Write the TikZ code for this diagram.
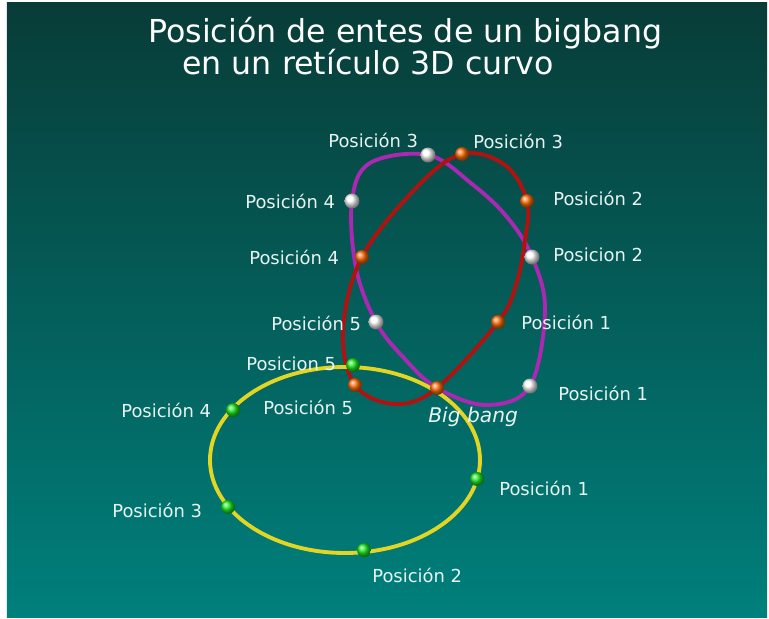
\documentclass[tikz,border=0pt]{standalone}
\usepackage{fontspec}
\setmainfont{DejaVu Sans}
\definecolor{bgtop}{RGB}{8,60,56}
\definecolor{bgbot}{RGB}{0,128,124}
\definecolor{labelcol}{RGB}{232,244,242}
\definecolor{purpleloop}{RGB}{170,40,178}
\definecolor{redloop}{RGB}{176,18,16}
\definecolor{yellowloop}{RGB}{226,214,34}
\definecolor{orangeball}{RGB}{255,110,10}
\definecolor{greenball}{RGB}{30,235,30}
\tikzset{
  lbl/.style={text=labelcol, font=\fontsize{10.2}{12}\selectfont, inner sep=0pt, anchor=west},
  ttl/.style={text=white, font=\fontsize{18}{20}\selectfont, inner sep=0pt, anchor=base west},
  ball/.style={circle, inner sep=0pt, minimum size=0.28cm, shading=ball},
  tube/.style={line width=2.2pt, line join=round}
}

\begin{document}
\begin{tikzpicture}[x=0.02cm, y=-0.02cm]
        % fondo
        \fill[white] (0,0) rectangle (769,619);
        \shade[top color=bgtop, bottom color=bgbot] (7,2) rectangle (767,617);

        % titulo
        \node[ttl] (t1) at (148,42) {Posición de entes de un bigbang};
        \node[ttl] (t2) at (182,74) {en un retículo 3D curvo};

        % posiciones
        \coordinate (bb) at (437,388);
        \coordinate (w1) at (530,386);
        \coordinate (w2) at (532,257);
        \coordinate (w3) at (428,155);
        \coordinate (w4) at (352,201);
        \coordinate (w5) at (376,322);
        \coordinate (r1) at (498,322);
        \coordinate (r2) at (527,201);
        \coordinate (r3) at (462,154);
        \coordinate (r4) at (362,257);
        \coordinate (r5) at (355,385);
        \coordinate (g1) at (477,479);
        \coordinate (g2) at (364,550);
        \coordinate (g3) at (228,507);
        \coordinate (g4) at (233,410);
        \coordinate (g5) at (353,365);

        % trayectorias
        \draw[tube, purpleloop] plot[smooth cycle, tension=0.6] coordinates {(w3) (472,184) (507,217) (w2) (545,310) (w1) (487,405) (bb) (403,357) (w5) (356,268) (w4) (370,163)};
        \draw[tube, redloop] plot[smooth cycle, tension=0.6] coordinates {(r3) (505,165) (r2) (525,240) (516,285) (r1) (bb) (395,404) (r5) (343,330) (r4) (417,187)};
        \draw[tube, yellowloop] (345,460) ellipse[x radius=135, y radius=93];

        % entes
        \foreach \p in {w1,w2,w3,w4,w5}
            \node[ball, ball color=white, minimum size=0.3cm] (n\p) at (\p) {};
        \foreach \p in {r1,r2,r3,r4,r5,bb}
            \node[ball, ball color=orangeball] (n\p) at (\p) {};
        \foreach \p in {g1,g2,g3,g4,g5}
            \node[ball, ball color=greenball] (n\p) at (\p) {};

        % rotulos
        \node[lbl] (lw3) at (328,140) {Posición 3};
        \node[lbl] (lw4) at (245,201) {Posición 4};
        \node[lbl] (lw2) at (553,255) {Posicion 2};
        \node[lbl] (lw5) at (271,323) {Posición 5};
        \node[lbl] (lw1) at (558,393) {Posición 1};
        \node[lbl] (lr3) at (473,141) {Posición 3};
        \node[lbl] (lr2) at (553,198) {Posición 2};
        \node[lbl] (lr4) at (249,257) {Posición 4};
        \node[lbl] (lr1) at (521,322) {Posición 1};
        \node[lbl] (lr5) at (263,407) {Posición 5};
        \node[lbl] (lg5) at (246,364) {Posicion 5};
        \node[lbl] (lg4) at (121,410) {Posición 4};
        \node[lbl] (lg3) at (112,510) {Posición 3};
        \node[lbl] (lg1) at (499,488) {Posición 1};
        \node[lbl] (lg2) at (372,575) {Posición 2};
        \node[lbl, font=\fontsize{11.5}{13}\selectfont\itshape] (lbb) at (428,417) {Big bang};
\end{tikzpicture}
\end{document}
